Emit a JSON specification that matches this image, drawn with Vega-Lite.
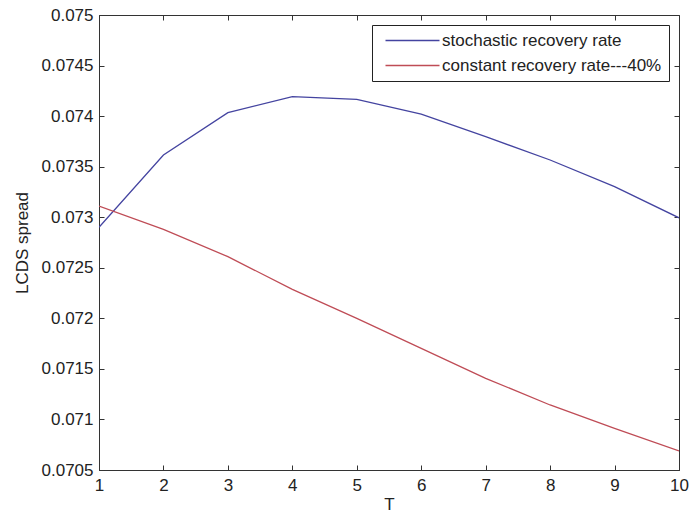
{
  "$schema": "https://vega.github.io/schema/vega-lite/v6.json",
  "width": 580,
  "height": 455,
  "autosize": {"type": "none"},
  "padding": {"left": 99, "top": 15, "right": 11, "bottom": 44},
  "background": "white",
  "config": {
    "font": "Liberation Sans",
    "view": {"stroke": "#333333", "strokeWidth": 1},
    "axis": {
      "labelFont": "Liberation Sans",
      "titleFont": "Liberation Sans",
      "labelFontSize": 17,
      "titleFontSize": 17,
      "labelColor": "#222222",
      "titleColor": "#222222",
      "titleFontWeight": "normal",
      "domainColor": "#333333",
      "tickColor": "#333333",
      "grid": false,
      "tickSize": -5
    }
  },
  "data": {
    "values": [
      {"T": 1, "spread": 0.07290, "series": "stochastic recovery rate"},
      {"T": 2, "spread": 0.073615, "series": "stochastic recovery rate"},
      {"T": 3, "spread": 0.074034, "series": "stochastic recovery rate"},
      {"T": 4, "spread": 0.074192, "series": "stochastic recovery rate"},
      {"T": 5, "spread": 0.074166, "series": "stochastic recovery rate"},
      {"T": 6, "spread": 0.074020, "series": "stochastic recovery rate"},
      {"T": 7, "spread": 0.073797, "series": "stochastic recovery rate"},
      {"T": 8, "spread": 0.073566, "series": "stochastic recovery rate"},
      {"T": 9, "spread": 0.073302, "series": "stochastic recovery rate"},
      {"T": 10, "spread": 0.072994, "series": "stochastic recovery rate"},
      {"T": 1, "spread": 0.073111, "series": "constant recovery rate---40%"},
      {"T": 2, "spread": 0.072880, "series": "constant recovery rate---40%"},
      {"T": 3, "spread": 0.072610, "series": "constant recovery rate---40%"},
      {"T": 4, "spread": 0.072287, "series": "constant recovery rate---40%"},
      {"T": 5, "spread": 0.072000, "series": "constant recovery rate---40%"},
      {"T": 6, "spread": 0.071703, "series": "constant recovery rate---40%"},
      {"T": 7, "spread": 0.071407, "series": "constant recovery rate---40%"},
      {"T": 8, "spread": 0.071143, "series": "constant recovery rate---40%"},
      {"T": 9, "spread": 0.070912, "series": "constant recovery rate---40%"},
      {"T": 10, "spread": 0.070688, "series": "constant recovery rate---40%"}
    ]
  },
  "layer": [
    {
      "mark": {"type": "line", "strokeWidth": 1.3, "clip": true},
      "encoding": {
        "x": {
          "field": "T", "type": "quantitative",
          "scale": {"domain": [1, 10], "nice": false, "zero": false},
          "axis": {
            "orient": "bottom",
            "values": [1, 2, 3, 4, 5, 6, 7, 8, 9, 10],
            "format": "d",
            "labelPadding": 12,
            "labelFlush": false,
            "title": "T",
            "titleX": 290,
            "titleY": 34,
            "titleBaseline": "middle",
            "titleAlign": "center"
          }
        },
        "y": {
          "field": "spread", "type": "quantitative",
          "scale": {"domain": [0.0705, 0.075], "nice": false, "zero": false},
          "axis": {
            "orient": "left",
            "values": [0.0705, 0.071, 0.0715, 0.072, 0.0725, 0.073, 0.0735, 0.074, 0.0745, 0.075],
            "labelExpr": "format(datum.value, '.4~f')",
            "labelPadding": 11,
            "labelFlush": false,
            "title": "LCDS spread",
            "titleX": -77,
            "titleY": 227.5,
            "titleAngle": -90,
            "titleBaseline": "middle",
            "titleAlign": "center"
          }
        },
        "color": {
          "field": "series", "type": "nominal",
          "scale": {
            "domain": ["stochastic recovery rate", "constant recovery rate---40%"],
            "range": ["#4444a0", "#bf4c56"]
          },
          "legend": {
            "title": null,
            "orient": "none",
            "legendX": 273,
            "legendY": 10,
            "symbolType": "M-6,0H6",
            "symbolSize": 81,
            "symbolStrokeWidth": 1.3,
            "symbolOffset": 25,
            "labelFont": "Liberation Sans",
            "labelFontSize": 17,
            "labelColor": "#222222",
            "labelOffset": 21,
            "labelLimit": 400,
            "rowPadding": 7,
            "padding": 7,
            "strokeColor": "#222222",
            "fillColor": "white"
          }
        }
      }
    },
    {
      "mark": {"type": "line", "opacity": 0},
      "encoding": {
        "x": {
          "field": "T", "type": "quantitative",
          "axis": {
            "orient": "top",
            "values": [1, 2, 3, 4, 5, 6, 7, 8, 9, 10],
            "labels": false,
            "domain": false,
            "title": null
          }
        },
        "y": {
          "field": "spread", "type": "quantitative",
          "axis": {
            "orient": "right",
            "values": [0.0705, 0.071, 0.0715, 0.072, 0.0725, 0.073, 0.0735, 0.074, 0.0745, 0.075],
            "labels": false,
            "domain": false,
            "title": null
          }
        },
        "detail": {"field": "series", "type": "nominal"}
      }
    }
  ],
  "resolve": {"axis": {"x": "independent", "y": "independent"}}
}
